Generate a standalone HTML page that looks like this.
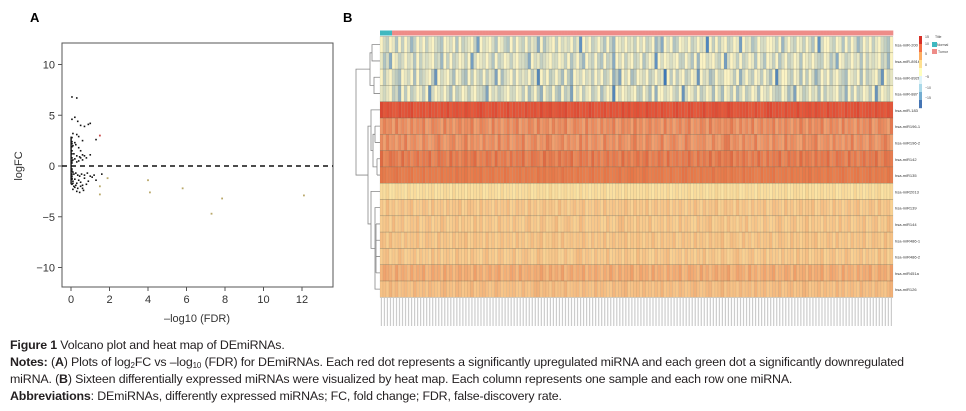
<!DOCTYPE html>
<html><head><meta charset="utf-8">
<style>
body{margin:0;width:966px;height:411px;background:#fff;overflow:hidden;font-family:"Liberation Sans",sans-serif;color:#231f20;position:relative}
.cap{position:absolute;left:10px;font-size:12.4px;white-space:nowrap;letter-spacing:-0.15px;line-height:15px}
.cap sub{font-size:8px;line-height:0;vertical-align:-2px}
svg{position:absolute;left:0;top:0}
</style></head><body>
<svg id="chart" width="966" height="335" viewBox="0 0 966 335"></svg>
<div class="cap" style="top:338px"><b>Figure 1</b> Volcano plot and heat map of DEmiRNAs.</div>
<div class="cap" style="top:355px"><b>Notes:</b> (<b>A</b>) Plots of log<sub>2</sub>FC vs –log<sub>10</sub> (FDR) for DEmiRNAs. Each red dot represents a significantly upregulated miRNA and each green dot a significantly downregulated</div>
<div class="cap" style="top:372px">miRNA. (<b>B</b>) Sixteen differentially expressed miRNAs were visualized by heat map. Each column represents one sample and each row one miRNA.</div>
<div class="cap" style="top:389px"><b>Abbreviations</b>: DEmiRNAs, differently expressed miRNAs; FC, fold change; FDR, false-discovery rate.</div>
<script>
const volcX=[0.05,0.3,0.05,0.2,0.35,0.5,0.7,0.9,1.0,0.1,0.3,0.4,0.6,0.05,0.1,0.2,0.25,0.4,0.5,0.7,0.15,0.3,0.45,0.6,0.8,1.0,0.05,0.1,0.2,0.3,0.4,0.5,0.6,0.05,0.1,0.15,0.25,0.35,0.45,0.55,0.7,0.85,1.0,1.2,0.05,0.1,0.2,0.3,0.4,0.5,0.6,0.7,0.9,1.1,1.3,1.6,0.05,0.15,0.25,0.35,0.5,0.65,0.8,0.1,0.2,0.3,0.45,0.6,0.05,0.1,0.05,0.05,0.05,0.05,0.05,0.05,0.05,0.05,0.05,0.05,1.3];
const volcY=[6.8,6.7,4.6,4.8,4.4,4.0,3.9,4.1,4.2,3.2,3.1,2.9,2.5,2.2,2.0,2.3,2.1,1.8,1.5,1.0,1.2,1.0,0.9,1.1,0.8,1.1,0.5,0.6,0.7,0.4,0.5,0.8,0.6,-0.5,-0.6,-0.8,-0.7,-0.9,-1.0,-0.8,-0.9,-0.7,-1.0,-0.9,-1.2,-1.5,-1.3,-1.7,-1.4,-1.6,-1.9,-1.2,-1.5,-1.1,-1.4,-0.8,-1.8,-2.0,-1.9,-2.2,-2.0,-2.4,-1.8,-2.3,-2.1,-2.5,-2.6,-2.2,-1.0,-1.7,2.8,2.4,1.9,1.5,1.2,0.8,0.3,-0.3,-0.8,-1.3,2.6];
const sigX=[1.5,1.5,1.9,4.0,4.1,5.8,7.3,7.85,12.1];
const sigY=[-2.0,-2.8,-1.2,-1.4,-2.6,-2.2,-4.7,-3.2,-2.9];
const upX=[1.5];const upY=[3.0];
const xTicks=[0,2,4,6,8,10,12];
const yTicks=[-10,-5,0,5,10];
const rowNames=["hsa-miR-200","hsa-miR-891b","hsa-miR-892b","hsa-miR-887","hsa-miR-183","hsa-miR196-1","hsa-miR196-2","hsa-miR142","hsa-miR135","hsa-miR2013","hsa-miR139","hsa-miR144","hsa-miR486-1","hsa-miR486-2","hsa-miR451a","hsa-miR126"];
const rowLow=["#fbf3c4","#fbf3c4","#fbf3c4","#fbf3c4","#e65a3c","#f0a070","#f0a070","#eb8a5a","#e9804f","#fbe3a4","#f9d193","#f9d193","#f9cf90","#f9d193","#f6bb80","#f8c68a"];
const rowHigh=["#4f86bf","#4f86bf","#3f78b6","#3f78b6","#d63a2a","#dd5a36","#dd5a36","#d8502f","#e2693e","#f4c888","#f0a56e","#f0a56e","#f0a56e","#f0a56e","#ea8655","#eea06a"];
const noise=["0230140302530203102340120403210370210240134030230312604210302120318020320240350120213020320536020430120320219030310320170214302200130520230130240820","1202330142601320214031210325030320130720120240320131022360213210220130420350230340326020310320420180201210330240500210230720130320140240130420320140","2300410255132041215012304210513200412350123041203150231042013520134012503120412305124013250134021530124031205140231052130421035120430125013420153012","1325204131502413250314203152041325014230513204132501432051302413250143205130241350214305123041325014320513204132501423051302413205130241350214305123"];
const rowNoise=[0,1,0,1,2,3,2,3,2,3,3,2,3,2,3,2];
const NS="http://www.w3.org/2000/svg",svg=document.getElementById("chart");
function el(t,a,p){const e=document.createElementNS(NS,t);for(const k in a)e.setAttribute(k,a[k]);(p||svg).appendChild(e);return e;}
function lerp(c1,c2,t){const a=parseInt(c1.slice(1),16),b=parseInt(c2.slice(1),16);const r=[16,8,0].map(s=>Math.round(((a>>s)&255)*(1-t)+((b>>s)&255)*t));return `rgb(${r.join(",")})`;}
// Panel A
const px=v=>71+v*19.25, py=v=>166-v*10.15;
let t=el("text",{x:30,y:22,"font-size":13,"font-weight":"bold"});t.textContent="A";

let box=el("rect",{x:62,y:43,width:271,height:244,fill:"none",stroke:"#555","stroke-width":1});

yTicks.forEach(v=>{el("line",{x1:58,x2:62,y1:py(v),y2:py(v),stroke:"#555"});const tt=el("text",{x:55,y:py(v)+4,"font-size":11,"text-anchor":"end",fill:"#333"});tt.textContent=v<0?"−"+(-v):v;
});
xTicks.forEach(v=>{el("line",{x1:px(v),x2:px(v),y1:287,y2:291,stroke:"#555"});const tt=el("text",{x:px(v),y:303,"font-size":11,"text-anchor":"middle",fill:"#333"});tt.textContent=v;
});
t=el("text",{x:197,y:322,"font-size":11,"text-anchor":"middle",fill:"#333"});t.textContent="–log10 (FDR)";

t=el("text",{x:22,y:166,"font-size":11,"text-anchor":"middle",fill:"#333",transform:"rotate(-90 22 166)"});t.textContent="logFC";

let zl=el("line",{x1:62,x2:333,y1:py(0),y2:py(0),stroke:"#111","stroke-width":1.5,"stroke-dasharray":"5,4"});

volcX.forEach((x,i)=>{const c=el("rect",{x:px(x)-0.8,y:py(volcY[i])-0.8,width:1.6,height:1.6,fill:"#111"});
});
el("rect",{x:px(0)-0.6,y:py(2.9),width:1.4,height:py(-1.8)-py(2.9),fill:"#111"});
sigX.forEach((x,i)=>{const c=el("rect",{x:px(x)-0.9,y:py(sigY[i])-0.9,width:1.8,height:1.8,fill:"#b9a86a"});
});
upX.forEach((x,i)=>{const c=el("rect",{x:px(x)-0.9,y:py(upY[i])-0.9,width:1.8,height:1.8,fill:"#c84a4a"});
});
// Panel B
t=el("text",{x:343,y:22,"font-size":13,"font-weight":"bold"});t.textContent="B";

const NC=170,hx=380,hw=513,cw=hw/NC,hy=36.5,rh=16.3;
const ann=el("g",{});
for(let c=0;c<NC;c++)el("rect",{x:hx+c*cw,y:30.5,width:cw+0.3,height:5,fill:c<4?"#3fb8c0":"#ee8c88"},ann);
const hm=el("g",{});
rowNames.forEach((n,r)=>{const s=noise[rowNoise[r]];
for(let c=0;c<NC;c++){const v=+s[(c+r*7)%s.length]/9;
const cell=el("rect",{x:hx+c*cw,y:hy+r*rh,width:cw,height:rh,fill:lerp(rowLow[r],rowHigh[r],v),stroke:"rgba(120,120,100,0.25)","stroke-width":0.4},hm);}
const lb=el("text",{x:895,y:hy+r*rh+rh/2+2,"font-size":4,fill:"#333"});lb.textContent=n;
});
for(let r=0;r<=16;r++)el("line",{x1:hx,x2:hx+hw,y1:hy+r*rh,y2:hy+r*rh,stroke:"rgba(90,90,70,0.45)","stroke-width":0.5});
const cl=el("g",{fill:"#888","font-size":3});
for(let c=0;c<NC;c++)el("rect",{x:hx+c*cw+0.8,y:298,width:1.2,height:28,fill:"#ccc"},cl);
// dendrogram
const dg=el("g",{fill:"none",stroke:"#888","stroke-width":0.8});
const ry=i=>hy+i*rh+rh/2;
[["M372",ry(0),ry(1)],["M374",ry(2),ry(3)]].forEach(a=>el("path",{d:`M380 ${a[1]}H${a[0].slice(1)}V${a[2]}H380`},dg));
el("path",{d:`M372 ${(ry(0)+ry(1))/2}H370V${(ry(2)+ry(3))/2}H374`},dg);
el("path",{d:`M375 ${ry(5)}V${ry(6)}M380 ${ry(5)}H375M380 ${ry(6)}H375M377 ${ry(7)}V${ry(8)}M380 ${ry(7)}H377M380 ${ry(8)}H377M375 ${(ry(5)+ry(6))/2}H373V${(ry(7)+ry(8))/2}H377M373 ${(ry(5)+ry(6))/2}`},dg);
el("path",{d:`M380 ${ry(4)}H371V${(ry(5)+ry(8))/2}H373`},dg);
el("path",{d:`M380 ${ry(10)}H375V${ry(15)}H380M380 ${ry(11)}H376M380 ${ry(12)}H376M380 ${ry(13)}H376M380 ${ry(14)}H376M376 ${ry(11)}V${ry(14)}M380 ${ry(9)}H371V${(ry(10)+ry(15))/2}H375`},dg);
el("path",{d:`M371 ${(ry(4)+ry(6))/2}H368V${(ry(9)+ry(13))/2}H371M370 ${(ry(0)+ry(3))/2}H356V${(ry(5)+ry(11))/2}H368`},dg);
// legend
const lg=el("g",{});
const stops=["#d73027","#f46d43","#fdae61","#fee090","#ffffbf","#e0f3f8","#abd9e9","#74add1","#4575b4"];
stops.forEach((c,i)=>el("rect",{x:919,y:36+i*8,width:3,height:8.2,fill:c},lg));
[["15",38],["10",45],["5",55],["0",66],["−5",78],["−10",89],["−15",99]].forEach(a=>{const x=el("text",{x:925,y:a[1],"font-size":3.5,fill:"#444"},lg);x.textContent=a[0];});
el("rect",{x:932,y:42,width:5,height:5,fill:"#3fb8c0"},lg);el("rect",{x:932,y:49,width:5,height:5,fill:"#ee8c88"},lg);
[["Title",935,38],["Normal",937,46],["Tumor",938,53]].forEach(a=>{const x=el("text",{x:a[1],y:a[2],"font-size":3.5,fill:"#444"},lg);x.textContent=a[0];});
</script>
</body></html>
